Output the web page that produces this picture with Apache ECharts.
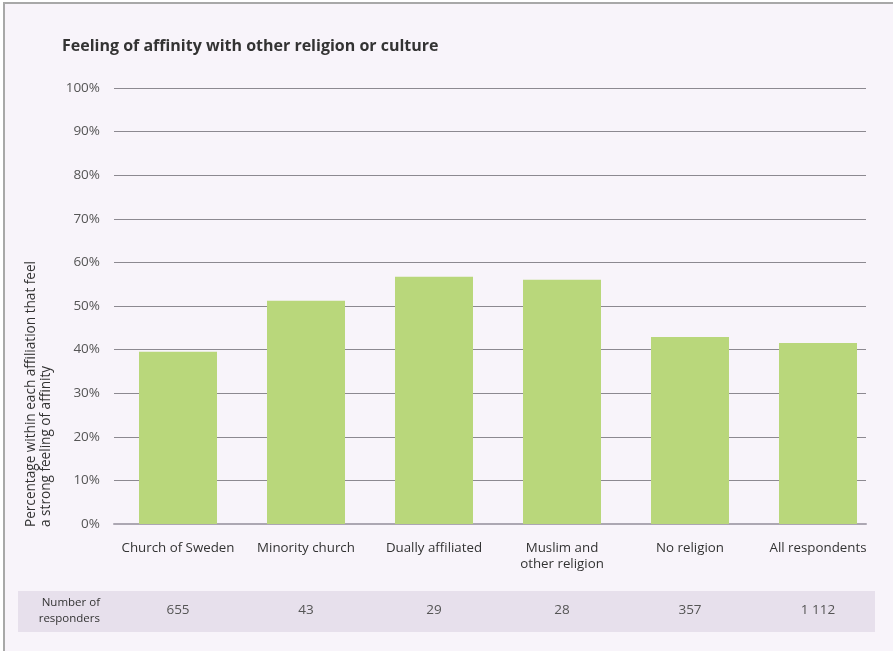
<!DOCTYPE html>
<html>
<head>
<meta charset="utf-8">
<title>Feeling of affinity with other religion or culture</title>
<script src="https://cdn.jsdelivr.net/npm/echarts@6/dist/echarts.min.js"></script>
<style>
  html, body { margin: 0; padding: 0; background: #ffffff; }
  #chart { width: 893px; height: 651px; }
</style>
</head>
<body>
<div id="chart"></div>
<script>
// Affiliation groups and share (%) that feel a strong affinity
const categories = ['Church of Sweden', 'Minority church', 'Dually affiliated', 'Muslim and\nother religion', 'No religion', 'All respondents'];
const affinityShare = [39.5, 51.2, 56.7, 56.0, 42.9, 41.5];
const responders = ['655', '43', '29', '28', '357', '1 112'];
const yTicks = { min: 0, max: 100, interval: 10 };

const FONT = '"Open Sans", "Noto Sans", sans-serif';
const TEXT = '#333333';
const TICK = '#555555';

const chart = echarts.init(document.getElementById('chart'), null, { renderer: 'canvas' });

const option = {
  backgroundColor: '#f8f4fa',
  animation: false,
  title: {
    text: 'Feeling of affinity with other religion or culture',
    left: 62,
    top: 38,
    padding: 0,
    textStyle: { fontFamily: FONT, fontSize: 16, fontWeight: 'bold', color: TEXT }
  },
  grid: [
    // gridlines and value axis
    { left: 114, right: 27, top: 88, bottom: 127 },
    // bars and category labels
    { left: 114, right: 11, top: 88, bottom: 127 }
  ],
  xAxis: [
    {
      type: 'category', gridIndex: 0, data: categories,
      axisLine: { show: true, lineStyle: { color: '#aca7b2', width: 2 } },
      axisTick: { show: false }, axisLabel: { show: false }
    },
    {
      type: 'category', gridIndex: 1, data: categories,
      axisLine: { show: false }, axisTick: { show: false },
      axisLabel: {
        margin: 16, fontFamily: FONT, fontSize: 13.3, color: TEXT, lineHeight: 16, interval: 0
      }
    },
    {
      type: 'category', gridIndex: 1, data: responders, position: 'bottom', offset: 79,
      axisLine: { show: false }, axisTick: { show: false },
      axisLabel: { margin: 0, fontFamily: FONT, fontSize: 13.5, color: TICK, interval: 0 }
    }
  ],
  yAxis: [
    {
      type: 'value', gridIndex: 0, min: yTicks.min, max: yTicks.max, interval: yTicks.interval,
      axisLine: { show: false }, axisTick: { show: false },
      axisLabel: { formatter: '{value}%', margin: 14, fontFamily: FONT, fontSize: 13.5, color: TICK },
      splitLine: { lineStyle: { color: '#8c8990', width: 1 } }
    },
    {
      type: 'value', gridIndex: 1, min: yTicks.min, max: yTicks.max, interval: yTicks.interval,
      show: false, splitLine: { show: false }
    }
  ],
  series: [
    {
      type: 'bar', xAxisIndex: 1, yAxisIndex: 1,
      data: affinityShare, barWidth: 78, z: 3,
      itemStyle: { color: '#b9d77b' }
    }
  ],
  graphic: [
    // outer frame
    { type: 'rect', shape: { x: 0, y: 0, width: 893, height: 2 }, style: { fill: '#ffffff' }, z: 0 },
    { type: 'rect', shape: { x: 0, y: 0, width: 3, height: 651 }, style: { fill: '#ffffff' }, z: 0 },
    { type: 'line', shape: { x1: 3, y1: 3, x2: 893, y2: 3 }, style: { stroke: '#a8a8a8', lineWidth: 2 }, z: 1 },
    { type: 'line', shape: { x1: 4, y1: 2, x2: 4, y2: 651 }, style: { stroke: '#a8a8a8', lineWidth: 2 }, z: 1 },
    // responders band
    { type: 'rect', shape: { x: 18, y: 591, width: 857, height: 41 }, style: { fill: '#e7e0ec' }, z: -1 },
    {
      type: 'text', x: 100, y: 611, z: 5,
      style: {
        text: 'Number of\nresponders', fill: TEXT, font: '11.5px ' + FONT,
        align: 'right', verticalAlign: 'middle', lineHeight: 16
      }
    },
    // value axis name
    {
      type: 'text', x: 24, y: 527, rotation: Math.PI / 2, z: 5,
      style: {
        text: 'Percentage within each affiliation that feel\na strong feeling of affinity',
        fill: TEXT, font: '13.6px ' + FONT, align: 'left', verticalAlign: 'top', lineHeight: 14.5
      }
    }
  ]
};

chart.setOption(option);
</script>
</body>
</html>
